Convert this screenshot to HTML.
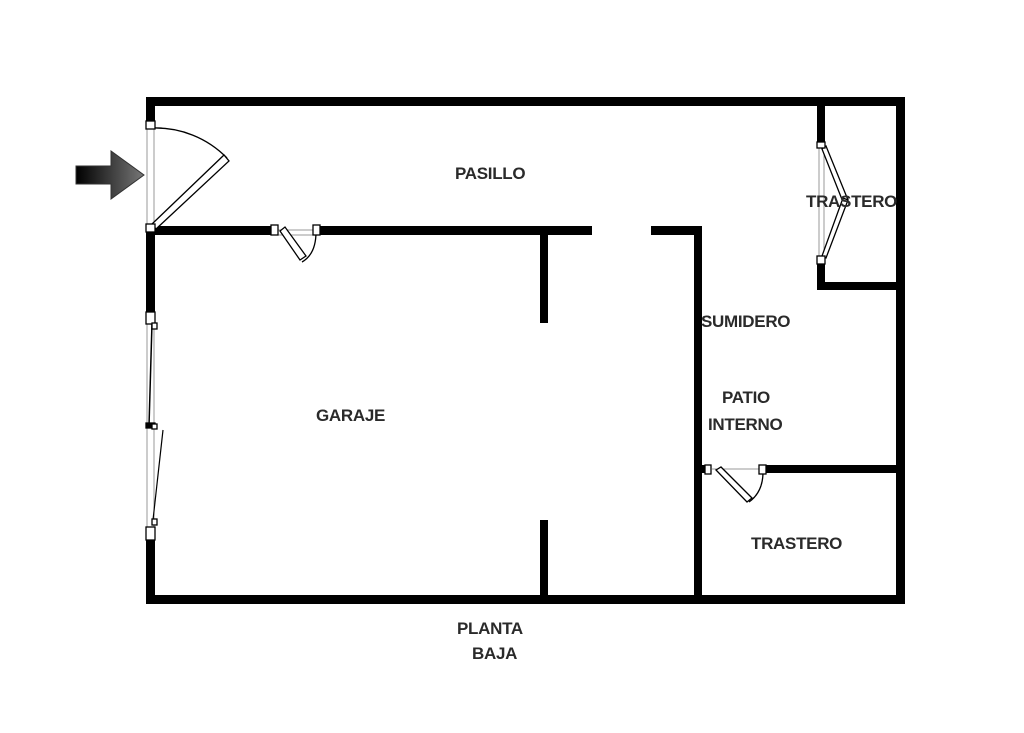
<!DOCTYPE html>
<html><head><style>
html,body{margin:0;padding:0;background:#fff;}
svg{display:block;}
text{font-family:"Liberation Sans",sans-serif;font-size:17px;font-weight:bold;fill:#2a2a2a;letter-spacing:-0.3px;}
</style></head><body>
<svg width="1024" height="733" viewBox="0 0 1024 733" xmlns="http://www.w3.org/2000/svg">
<defs>
<linearGradient id="ar" x1="0" x2="1" y1="0" y2="0">
<stop offset="0" stop-color="#000"/><stop offset="1" stop-color="#777"/></linearGradient>
</defs>
<g fill="#000">
<rect x="146" y="97" width="759" height="9"/>
<rect x="896" y="97" width="9" height="507"/>
<rect x="146" y="595" width="759" height="9"/>
<rect x="146" y="97" width="9" height="28"/>
<rect x="146" y="228" width="9" height="86"/>
<rect x="146" y="540" width="9" height="64"/>
<rect x="150" y="226" width="442" height="9"/>
<rect x="651" y="226" width="51" height="9"/>
<rect x="694" y="226" width="8" height="374"/>
<rect x="540" y="235" width="8" height="88"/>
<rect x="540" y="520" width="8" height="78"/>
<rect x="817" y="105" width="8" height="40"/>
<rect x="817" y="262" width="8" height="28"/>
<rect x="817" y="282" width="83" height="8"/>
<rect x="702" y="465" width="194" height="8"/>
</g>
<rect x="272" y="225" width="46" height="11" fill="#fff"/>
<rect x="708" y="464" width="56" height="10" fill="#fff"/>
<g fill="none" stroke="#999" stroke-width="1">
<line x1="147" y1="125" x2="147" y2="228"/><line x1="154" y1="125" x2="154" y2="228"/>
<line x1="147" y1="314" x2="147" y2="540"/><line x1="154" y1="314" x2="154" y2="540"/>
<line x1="276" y1="230" x2="316" y2="230"/><line x1="276" y1="235" x2="316" y2="235"/>
<line x1="712" y1="469" x2="762" y2="469"/>
<line x1="819" y1="145" x2="819" y2="262"/><line x1="824" y1="145" x2="824" y2="262"/>
</g>
<g fill="#fff" stroke="#000" stroke-width="1.3">
<path d="M152 128 A100 100 0 0 1 227 158" fill="none"/>
<polygon points="152,224 224,155 229,161 156,229"/>
<rect x="146" y="121" width="9" height="8"/><rect x="146" y="224" width="9" height="8"/>
<polygon points="280,231 285,227 306,256 300,260"/>
<path d="M316 232 Q316 254 302 262" fill="none"/>
<rect x="271" y="225" width="7" height="10"/><rect x="313" y="225" width="7" height="10"/>
<line x1="152" y1="323" x2="149" y2="426" stroke-width="1.5"/>
<line x1="163" y1="430" x2="153" y2="520" stroke-width="1.2"/>
<rect x="146" y="312" width="9" height="12"/><rect x="152" y="323" width="5" height="6"/>
<rect x="146" y="423" width="9" height="5" fill="#000"/><rect x="152" y="424" width="5" height="5"/>
<rect x="152" y="519" width="5" height="6"/><rect x="146" y="527" width="9" height="13"/>
<polygon points="822,149 826,146 848,200 843,202"/>
<polygon points="843,198 848,200 826,258 822,256"/>
<rect x="817" y="142" width="8" height="6"/><rect x="817" y="256" width="8" height="8"/>
<polygon points="716,470 721,467 752,498 747,502"/>
<path d="M763 472 Q763 492 749 502" fill="none"/>
<rect x="705" y="465" width="6" height="9"/><rect x="759" y="465" width="7" height="9"/>
</g>
<polygon points="76,166 111,166 111,151 144,175 111,199 111,184 76,184" fill="url(#ar)" stroke="#333" stroke-width="1"/>
<text x="455" y="179">PASILLO</text>
<text x="806" y="207">TRASTERO</text>
<text x="701" y="327">SUMIDERO</text>
<text x="722" y="403">PATIO</text>
<text x="708" y="430">INTERNO</text>
<text x="316" y="421">GARAJE</text>
<text x="751" y="549">TRASTERO</text>
<text x="457" y="634">PLANTA</text>
<text x="472" y="659">BAJA</text>
</svg>
</body></html>
